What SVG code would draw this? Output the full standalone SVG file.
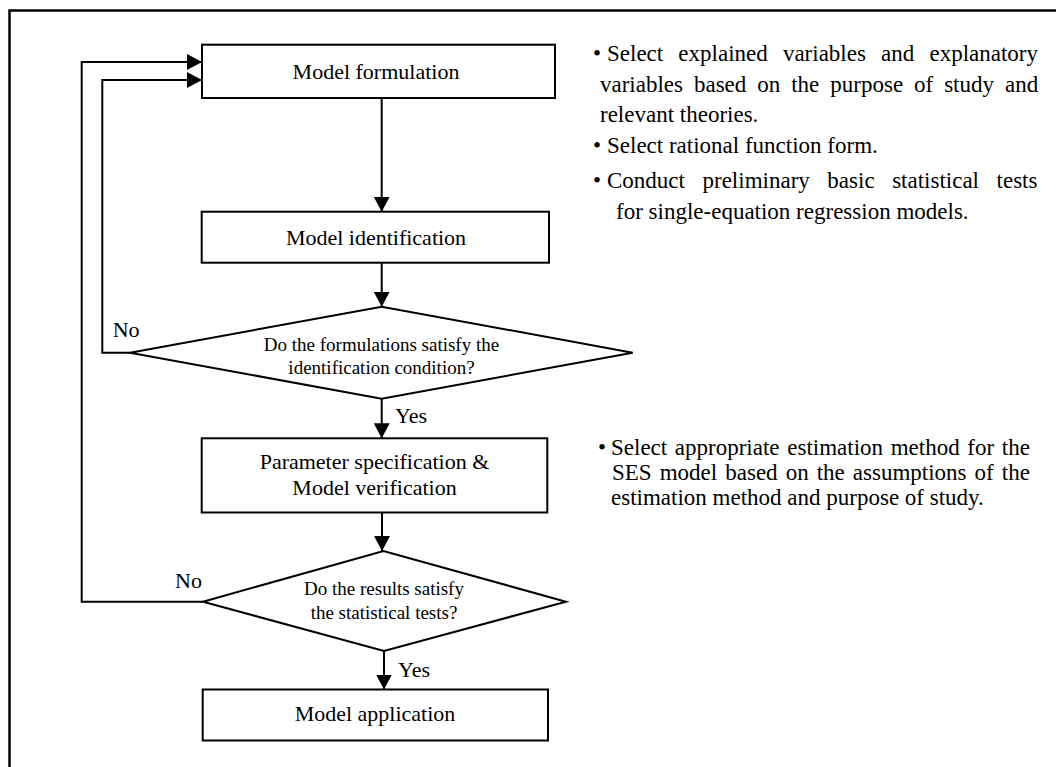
<svg xmlns="http://www.w3.org/2000/svg" width="1056" height="767" viewBox="0 0 1056 767">
  <style>
    .frame { fill: none; stroke: #000; stroke-width: 2.5; }
    .box { fill: #fff; stroke: #000; stroke-width: 2; }
    .edge { fill: none; stroke: #000; stroke-width: 2; }
    .lbl { font-family: "Liberation Serif", "Times New Roman", serif; fill: #000; }
    .node { font-size: 22px; text-anchor: middle; }
    .cond { font-size: 19px; text-anchor: middle; }
    .tag { font-size: 22px; }
    .note { font-size: 23px; }
  </style>
  <defs>
    <marker id="ah" viewBox="0 0 15 16" refX="15" refY="8" markerWidth="15" markerHeight="16" markerUnits="userSpaceOnUse" orient="auto">
      <path d="M0,0 L15,8 L0,16 z" fill="#000"/>
    </marker>
  </defs>

  <rect width="1056" height="767" fill="#fff"/>

  <!-- outer frame (top and left edges) -->
  <path class="frame" d="M9.5,767 V10.5 H1056"/>

  <!-- connectors -->
  <g id="connectors">
    <line class="edge" x1="381.7" y1="98" x2="381.7" y2="211.7" marker-end="url(#ah)"/>
    <line class="edge" x1="381.7" y1="262.7" x2="381.7" y2="306.7" marker-end="url(#ah)"/>
    <line class="edge" x1="381.7" y1="398.7" x2="381.7" y2="438.3" marker-end="url(#ah)"/>
    <line class="edge" x1="382" y1="512.5" x2="382" y2="551" marker-end="url(#ah)"/>
    <line class="edge" x1="384" y1="651" x2="384" y2="689.5" marker-end="url(#ah)"/>
    <!-- "No" loop from first decision -->
    <polyline class="edge" points="130,352.7 102.3,352.7 102.3,80 202,80" marker-end="url(#ah)"/>
    <!-- "No" loop from second decision -->
    <polyline class="edge" points="203,601.7 81.7,601.7 81.7,62 202,62" marker-end="url(#ah)"/>
    <text class="lbl tag" x="112.7" y="337">No</text>
    <text class="lbl tag" x="175" y="588">No</text>
    <text class="lbl tag" x="395" y="423">Yes</text>
    <text class="lbl tag" x="398" y="677">Yes</text>
  </g>

  <g id="formulation">
    <rect class="box" x="202" y="44.7" width="353" height="53.3"/>
    <text class="lbl node" x="376" y="79">Model formulation</text>
  </g>

  <g id="identification">
    <rect class="box" x="201.7" y="211.7" width="347.3" height="51"/>
    <text class="lbl node" x="376" y="245">Model identification</text>
  </g>

  <g id="identification-check">
    <polygon class="box" points="130,352.7 381.7,306.7 632.7,352.7 381.7,398.7"/>
    <text class="lbl cond" x="381.5" y="350.5">Do the formulations satisfy the</text>
    <text class="lbl cond" x="381.5" y="374">identification condition?</text>
  </g>

  <g id="estimation">
    <rect class="box" x="201.7" y="438.3" width="345.6" height="74.2"/>
    <text class="lbl node" x="374.5" y="469">Parameter specification &amp;</text>
    <text class="lbl node" x="374.5" y="495">Model verification</text>
  </g>

  <g id="tests-check">
    <polygon class="box" points="203,601.7 383.5,551 566,601.7 384,651"/>
    <text class="lbl cond" x="384" y="595">Do the results satisfy</text>
    <text class="lbl cond" x="384" y="619">the statistical tests?</text>
  </g>

  <g id="application">
    <rect class="box" x="202.7" y="689.5" width="345.3" height="51"/>
    <text class="lbl node" x="375" y="721">Model application</text>
  </g>

  <!-- notes for the formulation step (justified to x=1038) -->
  <g id="notes-formulation" class="lbl note">
    <text x="593" y="61">•</text>
    <text x="607" y="61" style="word-spacing:9.4px">Select explained variables and explanatory</text>
    <text x="600" y="92" style="word-spacing:5.2px">variables based on the purpose of study and</text>
    <text x="600" y="122">relevant theories.</text>
    <text x="593" y="153">•</text>
    <text x="607" y="153">Select rational function form.</text>
    <text x="593" y="188">•</text>
    <text x="607" y="188" style="word-spacing:11.8px">Conduct preliminary basic statistical tests</text>
    <text x="616" y="219">for single-equation regression models.</text>
  </g>

  <!-- notes for the estimation step -->
  <g id="notes-estimation" class="lbl note">
    <text x="598" y="455">•</text>
    <text x="611" y="455" style="word-spacing:1.9px">Select appropriate estimation method for the</text>
    <text x="612" y="480" style="word-spacing:2.3px">SES model based on the assumptions of the</text>
    <text x="611" y="505">estimation method and purpose of study.</text>
  </g>
</svg>
